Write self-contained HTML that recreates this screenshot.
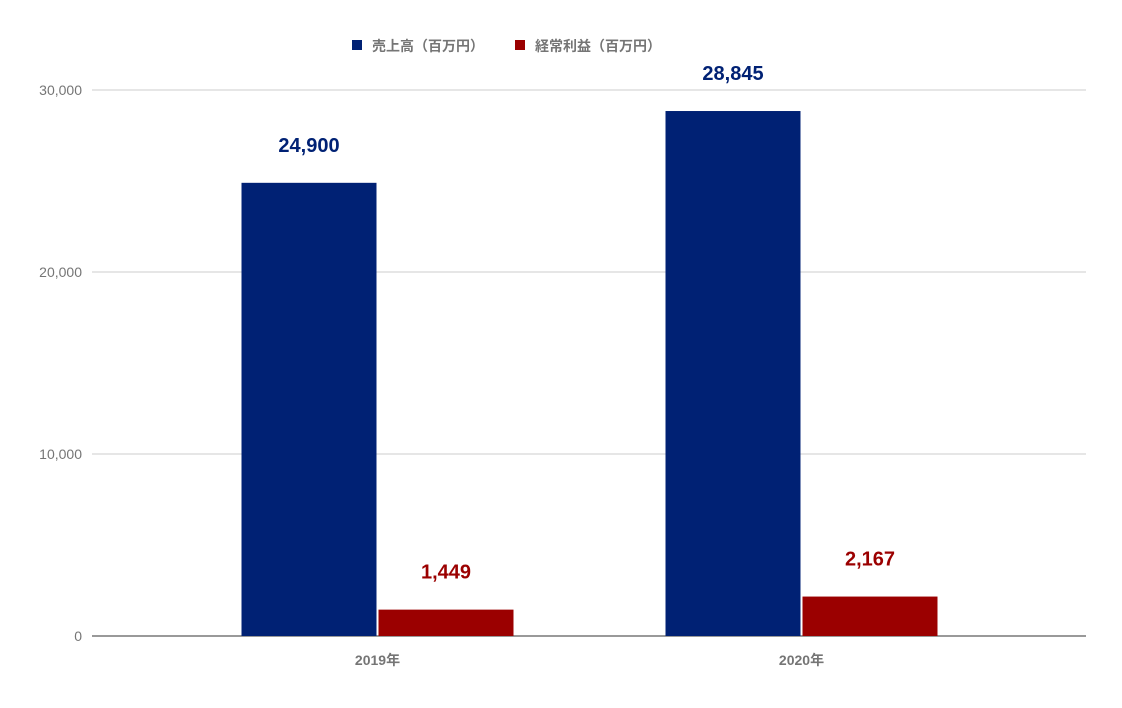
<!DOCTYPE html>
<html><head><meta charset="utf-8"><style>
body{margin:0;background:#fff;}
svg text{font-family:"Liberation Sans","Noto Sans CJK JP",sans-serif;}
</style></head><body>
<svg width="1122" height="703" viewBox="0 0 1122 703" xmlns="http://www.w3.org/2000/svg">
<g id="legend">
<rect x="352" y="40" width="10" height="10" fill="#002174"/>
<text x="372" y="51" font-size="14" font-weight="bold" fill="#757575">売上高（百万円）</text>
<rect x="515" y="40" width="10" height="10" fill="#9b0000"/>
<text x="535" y="51" font-size="14" font-weight="bold" fill="#757575">経常利益（百万円）</text>
</g>
<g id="grid"></g>
<g id="bars"></g>
</svg>
<script>
const categories=["2019年","2020年"];
const sales=[24900,28845];
const profit=[1449,2167];
const yTicks=[0,10000,20000,30000];
const yTickLabels=["0","10,000","20,000","30,000"];
const NS="http://www.w3.org/2000/svg";
const y0=636,yTop=90,yMax=30000;
function y(v){return y0-(v/yMax)*(y0-yTop);}
const firstCenter=377.5,catStep=424,barW=135,gap=2;
function cx(i){return firstCenter+i*catStep;}
function mk(tag,attrs,parent){const e=document.createElementNS(NS,tag);for(const k in attrs)e.setAttribute(k,attrs[k]);parent.appendChild(e);return e;}
const grid=document.getElementById('grid');
yTicks.forEach((t,i)=>{
 const l=mk('line',{x1:92,x2:1086,y1:y(t),y2:y(t),stroke:i===0?'#333':'#ccc','stroke-width':1},grid);
 
 
 const tx=mk('text',{x:82,y:y(t)+5,'font-size':14,fill:'#757575','text-anchor':'end'},grid);
 tx.textContent=yTickLabels[i];
 
 
});
const bars=document.getElementById('bars');
function fmt(v){return v.toLocaleString('en-US');}
categories.forEach((c,i)=>{
 const c0=cx(i);
 const series=[[sales[i],'#002174',c0-gap/2-barW,'bar-sales'],[profit[i],'#9b0000',c0+gap/2,'bar-profit']];
 series.forEach(s=>{
  const r=mk('rect',{x:s[2],y:y(s[0]),width:barW,height:y0-y(s[0]),fill:s[1]},bars);
  
  
  const t=mk('text',{x:s[2]+barW/2,y:y(s[0])-31,'font-size':20,'font-weight':'bold',fill:s[1],'text-anchor':'middle'},bars);
  t.textContent=fmt(s[0]);
  
  
 });
 const xl=mk('text',{x:c0,y:665,'font-size':14,'font-weight':'bold',fill:'#757575','text-anchor':'middle'},bars);
 xl.textContent=c;
 
 
});
</script>
</body></html>
